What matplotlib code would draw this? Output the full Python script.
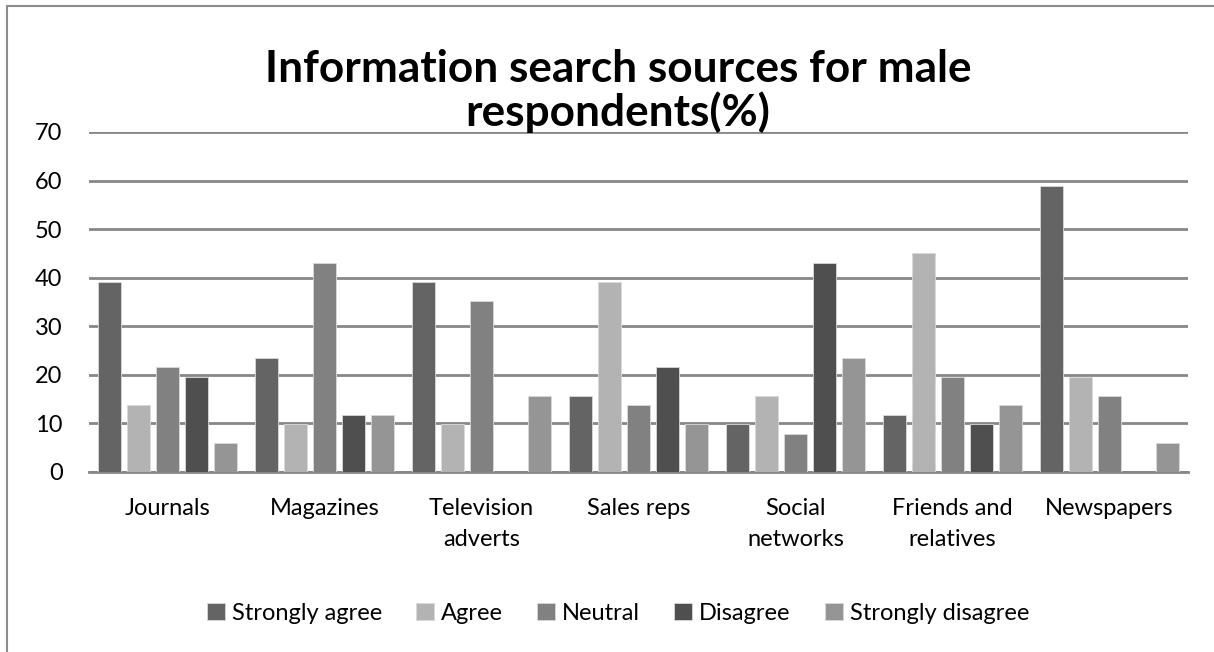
import matplotlib
matplotlib.use("Agg")
import matplotlib.pyplot as plt
import numpy as np
from matplotlib.patches import Rectangle

categories = ["Journals", "Magazines", "Television\nadverts", "Sales reps",
              "Social\nnetworks", "Friends and\nrelatives", "Newspapers"]
series_names = ["Strongly agree", "Agree", "Neutral", "Disagree", "Strongly disagree"]
strongly_agree = [39.2, 23.5, 39.2, 15.7, 9.8, 11.8, 58.8]
agree = [13.7, 9.8, 9.8, 39.2, 15.7, 45.1, 19.6]
neutral = [21.6, 43.1, 35.3, 13.7, 7.8, 19.6, 15.7]
disagree = [19.6, 11.8, 0, 21.6, 43.1, 9.8, 0]
strongly_disagree = [5.9, 11.8, 15.7, 9.8, 23.5, 13.7, 5.9]
yticks = [0, 10, 20, 30, 40, 50, 60, 70]

colors = ["#646464", "#b3b3b3", "#818181", "#4f4f4f", "#959595"]
plt.rcParams['font.family'] = ['Lato', 'DejaVu Sans']

W, H = 1214, 652
fig = plt.figure(figsize=(W / 100, H / 100), dpi=100)
left, right, top, bottom = 89, 1188, 132, 472
ax = fig.add_axes([left / W, 1 - bottom / H, (right - left) / W, (bottom - top) / H])

# frame around chart area
fig.patches.append(Rectangle((7 / W, -0.1), 1.2, 1 - 6 / H + 0.1, transform=fig.transFigure,
                             fill=False, edgecolor="#8c8c8c", linewidth=1.5))

data = [strongly_agree, agree, neutral, disagree, strongly_disagree]
x = np.arange(len(categories))
cat_px = (right - left) / len(categories)
step = 29 / cat_px
bw = 23 / cat_px
for i, (vals, name, c) in enumerate(zip(data, series_names, colors)):
    ax.bar(x + (i - 2) * step, vals, width=bw, color=c, label=name,
           edgecolor="#d9d9d9", linewidth=0.6, zorder=3)

ax.set_xlim(-0.5, len(categories) - 0.5)
ax.set_ylim(0, 70)
ax.set_yticks(yticks)
ax.set_yticklabels([str(t) for t in yticks], fontsize=17)
ax.set_xticks(x)
ax.set_xticklabels(categories, fontsize=17, linespacing=1.55)
ax.tick_params(axis='y', length=0, pad=19)
ax.tick_params(axis='x', length=0, pad=19)
ax.grid(axis='y', color="#878787", linewidth=2, zorder=0)
for s in ["top", "right", "left"]:
    ax.spines[s].set_visible(False)
ax.spines["bottom"].set_color("#878787")
ax.spines["bottom"].set_linewidth(2)

fig.text(618 / W, 1 - 82 / H, "Information search sources for male", ha="center", va="baseline",
         fontsize=31.8, fontweight="bold", zorder=5)
fig.text(618 / W, 1 - 126 / H, "respondents(%)", ha="center", va="baseline",
         fontsize=31.8, fontweight="bold", zorder=5)

leg = fig.legend(loc="center", bbox_to_anchor=(618 / W, 1 - 613 / H), ncol=5, frameon=False,
                 fontsize=17, handlelength=0.75, handleheight=0.75, handletextpad=0.3,
                 columnspacing=1.45)

fig.savefig("out.png", dpi=100)
